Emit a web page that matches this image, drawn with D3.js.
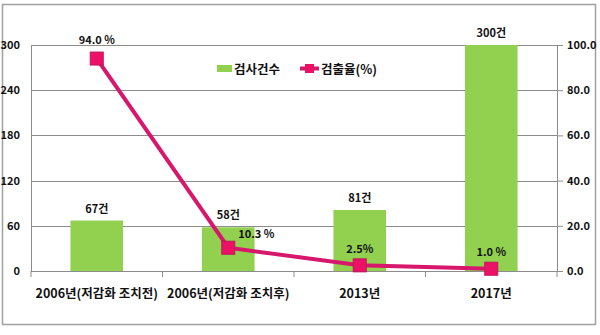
<!DOCTYPE html>
<html><head><meta charset="utf-8">
<script src="https://cdn.jsdelivr.net/npm/d3@7/dist/d3.min.js"></script>
<style>
body{margin:0;background:#fff;}
text{font-family:"Noto Sans CJK KR","Noto Sans",sans-serif;font-weight:bold;fill:#111;}
</style></head><body>
<svg id="c" width="600" height="335"></svg>
<script>
const categories = ["2006년(저감화 조치전)", "2006년(저감화 조치후)", "2013년", "2017년"];
const counts = [67, 58, 81, 300];
const countLabels = ["67건", "58건", "81건", "300건"];
const rates = [94.0, 10.3, 2.5, 1.0];
const rateLabels = ["94.0 %", "10.3 %", "2.5%", "1.0 %"];
const leftTicks = [0, 60, 120, 180, 240, 300];
const rightTicks = [0, 20, 40, 60, 80, 100];

const svg = d3.select("#c");
const L = 31, R = 557, T = 45, B = 271;

// outer frame
svg.append("rect").attr("x", 2.5).attr("y", 4.5).attr("width", 593).attr("height", 320)
  .attr("fill", "#fff").attr("stroke", "#a0a0a0").attr("stroke-width", 1.5);

const x = d3.scaleBand().domain(categories).range([L, R]).paddingInner(0.6).paddingOuter(0.3);
const yL = d3.scaleLinear().domain([0, 300]).range([B, T]);
const yR = d3.scaleLinear().domain([0, 100]).range([B, T]);

// gridlines
svg.append("g").selectAll("line").data(leftTicks.slice(1)).join("line")
  .attr("x1", L).attr("x2", R).attr("y1", d => Math.round(yL(d)) + 0.5).attr("y2", d => Math.round(yL(d)) + 0.5)
  .attr("stroke", "#8c8c8c").attr("stroke-width", 1);

// left axis
const gl = svg.append("g").attr("transform", `translate(${L},0)`)
  .call(d3.axisLeft(yL).tickValues(leftTicks).tickSize(0).tickPadding(11));
gl.select(".domain").attr("stroke", "#8c8c8c");
gl.selectAll("text").attr("font-size", 11).attr("font-family", "Liberation Sans, Arial, sans-serif").style("font-weight", "bold").attr("fill", "#111");

// right axis
const gr = svg.append("g").attr("transform", `translate(${R},0)`)
  .call(d3.axisRight(yR).tickValues(rightTicks).tickSize(6).tickPadding(4).tickFormat(d3.format(".1f")));
gr.selectAll(".domain, line").attr("stroke", "#8c8c8c");
gr.select(".domain").attr("d", `M0.5,${T}V${B}`);
gr.selectAll("text").attr("font-size", 11).attr("font-family", "Liberation Sans, Arial, sans-serif").style("font-weight", "bold").attr("fill", "#111");

// x axis
const step = x.step();
const bounds = d3.range(categories.length + 1).map(i => L + i * (R - L) / categories.length);
svg.append("line").attr("x1", L).attr("x2", R).attr("y1", B + 0.5).attr("y2", B + 0.5).attr("stroke", "#8c8c8c");
svg.append("g").selectAll("line").data(bounds).join("line")
  .attr("x1", d => d).attr("x2", d => d).attr("y1", B).attr("y2", B + 6).attr("stroke", "#8c8c8c");
svg.append("g").selectAll("text").data(categories).join("text")
  .attr("x", d => x(d) + x.bandwidth() / 2).attr("y", B + 27).attr("text-anchor", "middle")
  .attr("font-size", 12.5).text(d => d);

// bars
svg.append("g").selectAll("rect").data(counts).join("rect")
  .attr("x", (d, i) => x(categories[i])).attr("width", x.bandwidth())
  .attr("y", d => yL(d)).attr("height", d => B - yL(d)).attr("fill", "#92d050");
svg.append("g").selectAll("text").data(counts).join("text")
  .attr("x", (d, i) => x(categories[i]) + x.bandwidth() / 2).attr("y", d => yL(d) - 8)
  .attr("text-anchor", "middle").attr("font-size", 11).text((d, i) => countLabels[i]);

// line
const lineColor = "#d6176b";
const pts = rates.map((r, i) => [x(categories[i]) + x.bandwidth() / 2, yR(r)]);
svg.append("path").attr("d", d3.line()(pts)).attr("fill", "none").attr("stroke", lineColor).attr("stroke-width", 4);
svg.append("g").selectAll("rect").data(pts).join("rect")
  .attr("x", d => d[0] - 6.5).attr("y", d => d[1] - 6.5).attr("width", 13).attr("height", 13)
  .attr("fill", "#ec1067").attr("stroke", "#c0145a").attr("stroke-width", 1);
const labOff = [[0, -15], [28, -10], [0, -12], [0, -13]];
svg.append("g").selectAll("text").data(pts).join("text")
  .attr("x", (d, i) => d[0] + labOff[i][0]).attr("y", (d, i) => d[1] + labOff[i][1])
  .attr("text-anchor", "middle").attr("font-size", 11).text((d, i) => rateLabels[i]);

// legend
const lg = svg.append("g");
lg.append("rect").attr("x", 217).attr("y", 65).attr("width", 15).attr("height", 7).attr("fill", "#92d050");
lg.append("text").attr("x", 234).attr("y", 74).attr("font-size", 12.5).text("검사건수");
lg.append("line").attr("x1", 300).attr("x2", 319).attr("y1", 68.5).attr("y2", 68.5).attr("stroke", lineColor).attr("stroke-width", 4);
lg.append("rect").attr("x", 305).attr("y", 64).attr("width", 9).attr("height", 9).attr("fill", "#ec1067");
lg.append("text").attr("x", 321).attr("y", 74).attr("font-size", 12.5).text("검출율(%)");
</script>
</body></html>
